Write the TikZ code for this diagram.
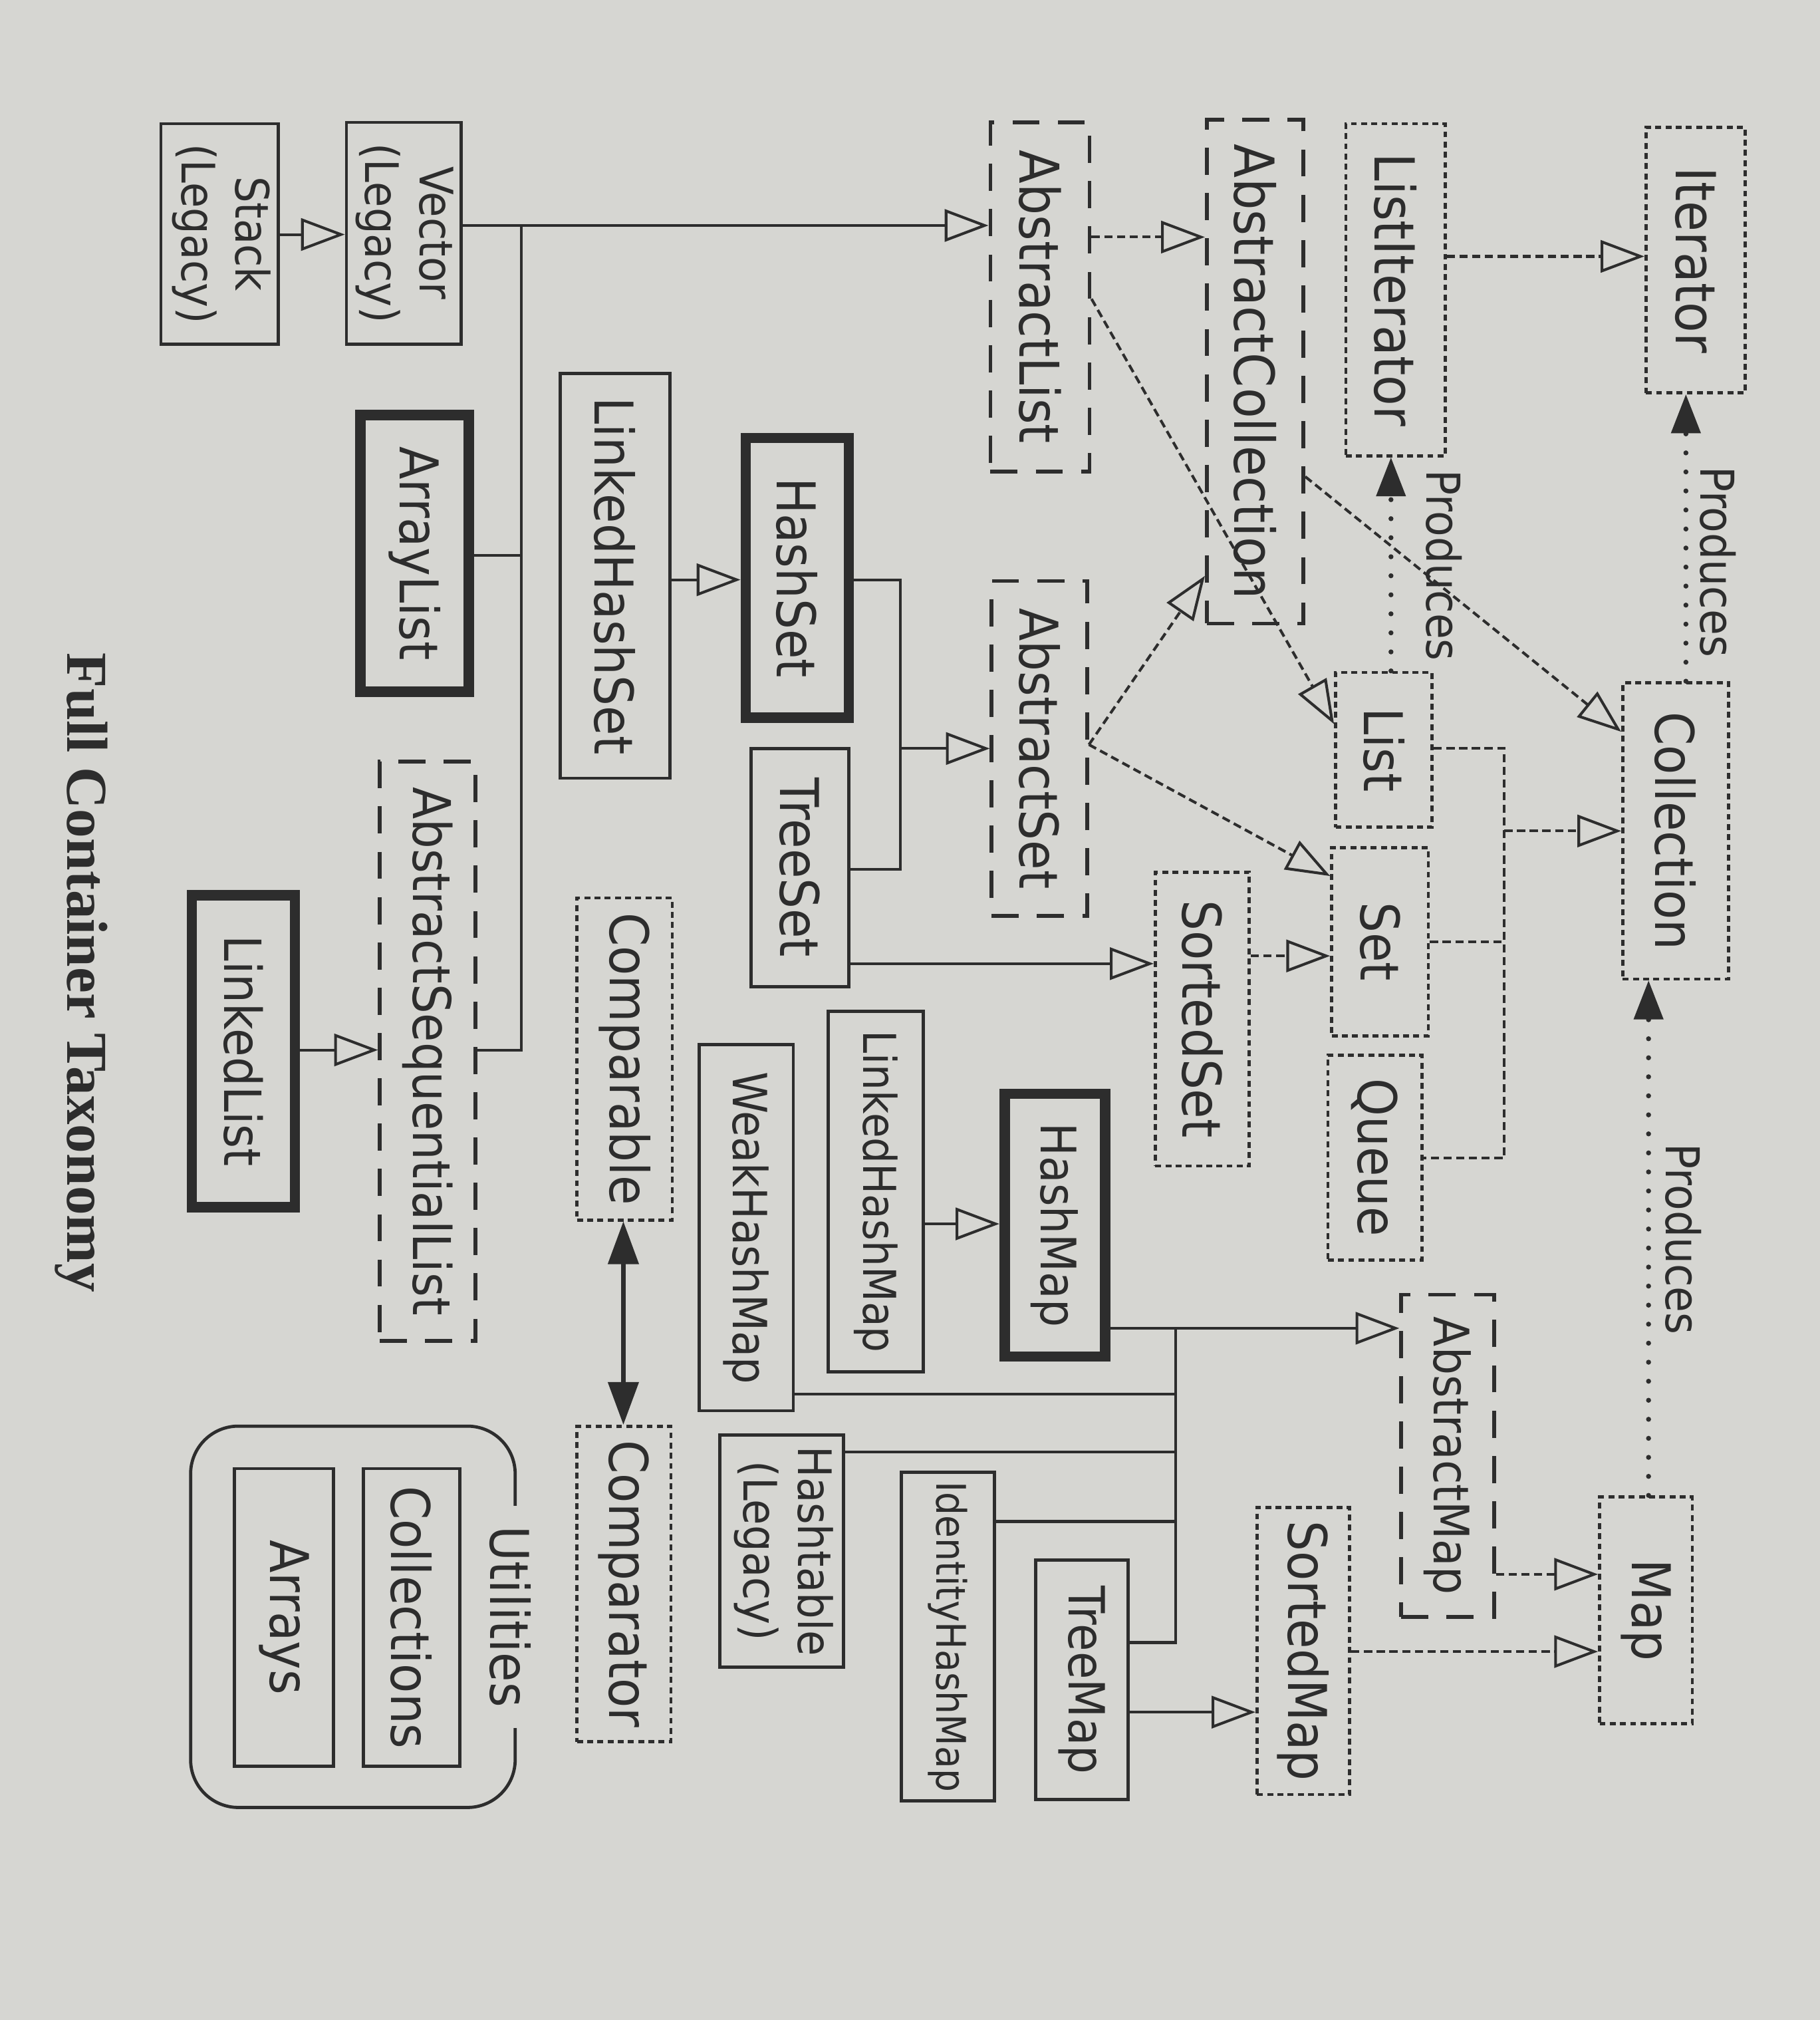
\documentclass[tikz,border=0pt]{standalone}
\usepackage{fontspec}
\usetikzlibrary{arrows.meta,fit}
\newfontfamily\labfont{DejaVu Sans}[FakeStretch=0.9]
\newfontfamily\capfont{Liberation Serif}
\definecolor{ink}{RGB}{45,45,45}
\definecolor{paper}{RGB}{214,214,210}
\newcommand\vtext[1]{\rotatebox{-90}{#1}}
\newcommand\vtwo[2]{\rotatebox{-90}{\begin{tabular}{@{}c@{}}#1\\#2\end{tabular}}}
\tikzset{
  every node/.style={text=ink},
  lab/.style={font=\labfont\fontsize{11.8}{13.5}\selectfont},
  fs/.style={font=\labfont\fontsize{#1}{14}\selectfont},
  iface/.style={lab, draw=ink, line width=0.7pt, dash pattern=on 1.3pt off 0.95pt, inner sep=0pt},
  abstr/.style={lab, draw=ink, line width=0.85pt, dash pattern=on 6pt off 4pt, inner sep=0pt},
  plain/.style={lab, draw=ink, line width=0.7pt, inner sep=0pt},
  core/.style={lab, draw=ink, line width=2.3pt, inner sep=0pt},
  legacy/.style={font=\labfont\fontsize{10.2}{12}\selectfont},
  small/.style={font=\labfont\fontsize{9}{11}\selectfont},
  plabel/.style={font=\labfont\fontsize{10.3}{12}\selectfont, inner sep=0pt},
  conn/.style={draw=ink, line width=0.6pt},
  dconn/.style={draw=ink, line width=0.6pt, dash pattern=on 1.8pt off 1pt},
  dots/.style={draw=ink, line width=1.1pt, line cap=round, dash pattern=on 0pt off 4.2pt},
  isa/.style={-{Triangle[open, length=0.34cm, width=0.25cm, line width=0.6pt]}},
  makes/.style={-{Triangle[length=0.3cm, width=0.23cm, line width=0.4pt]}},
  both/.style={draw=ink, line width=1pt,
    {Triangle[length=0.33cm, width=0.24cm, line width=0.4pt]}-{Triangle[length=0.33cm, width=0.24cm, line width=0.4pt]}},
}
\begin{document}
\begin{tikzpicture}[x=0.01cm, y=-0.01cm]
\fill[paper] (0,0) rectangle (1413,1568);
\useasboundingbox (0,0) rectangle (1413,1568);

% interfaces, abstract classes and concrete classes
\node[iface, fs=12.2, fit={(1278,99)(1355,305)}] (iterator) {\vtext{Iterator}};
\node[iface, fs=12.2, fit={(1045,96)(1122,354)}] (listiter) {\vtext{ListIterator}};
\node[abstr, fs=12.2, fit={(937,93)(1012,484)}] (abscoll) {\vtext{AbstractCollection}};
\node[abstr, fs=12.1, fit={(769,95)(846,366)}] (abslist) {\vtext{AbstractList}};
\node[plain, legacy, fit={(269,95)(358,267)}] (vector) {\vtwo{Vector}{(Legacy)}};
\node[plain, legacy, fit={(125,96)(216,267)}] (stack) {\vtwo{Stack}{(Legacy)}};
\node[core, fit={(280,322)(364,537)}] (arraylist) {\vtext{ArrayList}};
\node[plain, fit={(435,290)(520,604)}] (lhashset) {\vtext{LinkedHashSet}};
\node[core, fit={(579,340)(659,557)}] (hashset) {\vtext{HashSet}};
\node[abstr, fit={(770,451)(844,711)}] (absset) {\vtext{AbstractSet}};
\node[plain, fit={(583,581)(659,766)}] (treeset) {\vtext{TreeSet}};
\node[abstr, fs=11.5, fit={(295,591)(369,1041)}] (absseq) {\vtext{AbstractSequentialList}};
\node[core, fs=11.3, fit={(149,695)(229,937)}] (linkedlist) {\vtext{LinkedList}};
\node[iface, fit={(448,697)(522,947)}] (comparable) {\vtext{Comparable}};
\node[iface, fit={(448,1107)(521,1352)}] (comparator) {\vtext{Comparator}};
\node[iface, fit={(1260,530)(1342,760)}] (collection) {\vtext{Collection}};
\node[iface, fit={(1037,522)(1112,642)}] (list) {\vtext{List}};
\node[iface, fit={(1034,658)(1109,804)}] (set) {\vtext{Set}};
\node[iface, fit={(1031,819)(1104,978)}] (queue) {\vtext{Queue}};
\node[iface, fit={(897,677)(970,905)}] (sortedset) {\vtext{SortedSet}};
\node[plain, fs=10.0, fit={(643,785)(717,1065)}] (lhashmap) {\vtext{LinkedHashMap}};
\node[plain, fs=10.4, fit={(543,811)(616,1095)}] (weakhashmap) {\vtext{WeakHashMap}};
\node[core, fs=10.8, fit={(780,849)(858,1053)}] (hashmap) {\vtext{HashMap}};
\node[abstr, fs=10.8, fit={(1088,1005)(1160,1255)}] (absmap) {\vtext{AbstractMap}};
\node[iface, fit={(1242,1162)(1314,1338)}] (map) {\vtext{Map}};
\node[iface, fit={(976,1170)(1048,1393)}] (sortedmap) {\vtext{SortedMap}};
\node[plain, fs=11.0, fit={(804,1211)(876,1397)}] (treemap) {\vtext{TreeMap}};
\node[plain, small, fit={(700,1143)(772,1398)}] (idhashmap) {\vtext{IdentityHashMap}};
\node[plain, legacy, fit={(559,1114)(655,1294)}] (hashtable) {\vtwo{Hashtable}{(Legacy)}};

% utilities group
\node[draw=ink, line width=0.7pt, rounded corners=0.37cm, inner sep=0pt, fit={(148,1107)(400,1403)}] (utilities) {};
\node[plain, fit={(282,1140)(357,1371)}] (collections) {\vtext{Collections}};
\node[plain, fit={(182,1140)(259,1371)}] (arrays) {\vtext{Arrays}};
\node[lab, fill=paper, inner xsep=2pt, inner ysep=0.16cm] (utillabel) at (396,1255) {\vtext{Utilities}};

% caption
\node[font=\capfont\bfseries\fontsize{12.8}{15}\selectfont] (title) at (63,755) {\vtext{Full Container Taxonomy}};

% list side
\draw[dconn, isa] (listiter.east |- 0,199) -- (iterator.west |- 0,199);
\draw[dconn, isa] (abslist.east |- 0,184) -- (abscoll.west |- 0,184);
\draw[conn, isa] (stack.east |- 0,182) -- (vector.west |- 0,182);
\coordinate (vbus) at (405,175);
\coordinate (vbusend) at (405,815);
\draw[conn, isa] (vector.east |- vbus) -- (abslist.west |- vbus);
\draw[conn] (vbus) -- (vbusend) -- (absseq.east |- vbusend);
\draw[conn] (arraylist.east |- 0,431) -- (vbus |- 0,431);
\draw[conn, isa] (linkedlist.east |- 0,815) -- (absseq.west |- 0,815);

% set side
\draw[conn, isa] (lhashset.east |- 0,450) -- (hashset.west |- 0,450);
\coordinate (sbusT) at (699,450);
\coordinate (sbusB) at (699,675);
\coordinate (sbus) at (699,581);
\draw[conn] (hashset.east |- sbusT) -- (sbusT) -- (sbusB) -- (treeset.east |- sbusB);
\draw[conn, isa] (sbus) -- (absset.west |- sbus);
\draw[conn, isa] (treeset.east |- 0,748) -- (sortedset.west |- 0,748);
\draw[dconn, isa] (sortedset.east |- 0,742) -- (set.west |- 0,742);
\coordinate (asfork) at (absset.east |- 0,578);
\draw[dconn, isa] (asfork) -- (abscoll.west |- 0,447);
\draw[dconn, isa] (asfork) -- (set.west |- 0,680);
\draw[dconn, isa] (abslist.east |- 0,232) -- (list.west |- 0,562);
\draw[dconn, isa] (abscoll.east |- 0,370) -- (collection.west |- 0,568);

% List, Set, Queue extend Collection
\coordinate (cbusT) at (1168,581);
\coordinate (cbusB) at (1168,899);
\coordinate (cbus) at (1168,645);
\draw[dconn] (list.east |- cbusT) -- (cbusT) -- (cbusB) -- (queue.east |- cbusB);
\draw[dconn] (set.east |- 0,731) -- (cbusT |- 0,731);
\draw[dconn, isa] (cbus) -- (collection.west |- cbus);

% produces
\draw[dots, makes] (collection.north -| 1309,0) -- (iterator.south -| 1309,0);
\node[plabel] (prodIter) at (1334,436) {\vtext{Produces}};
\draw[dots, makes] (list.north -| 1080,0) -- (listiter.south -| 1080,0);
\node[plabel] (prodList) at (1121,439) {\vtext{Produces}};
\draw[dots, makes] (map.north -| 1280,0) -- (collection.south -| 1280,0);
\node[plabel] (prodMap) at (1307,962) {\vtext{Produces}};

% map side
\draw[conn, isa] (lhashmap.east |- 0,950) -- (hashmap.west |- 0,950);
\coordinate (mbusT) at (913,1031);
\coordinate (mbusB) at (913,1275);
\draw[conn, isa] (hashmap.east |- mbusT) -- (absmap.west |- mbusT);
\draw[conn] (mbusT) -- (mbusB) -- (treemap.east |- mbusB);
\draw[conn] (weakhashmap.east |- 0,1082) -- (mbusT |- 0,1082);
\draw[conn] (hashtable.east |- 0,1127) -- (mbusT |- 0,1127);
\draw[conn] (idhashmap.east |- 0,1181) -- (mbusT |- 0,1181);
\draw[conn, isa] (treemap.east |- 0,1329) -- (sortedmap.west |- 0,1329);
\draw[dconn, isa] (absmap.east |- 0,1222) -- (map.west |- 0,1222);
\draw[dconn, isa] (sortedmap.east |- 0,1282) -- (map.west |- 0,1282);

% comparison
\draw[both] (comparable.south -| 484,0) -- (comparator.north -| 484,0);
\end{tikzpicture}
\end{document}
